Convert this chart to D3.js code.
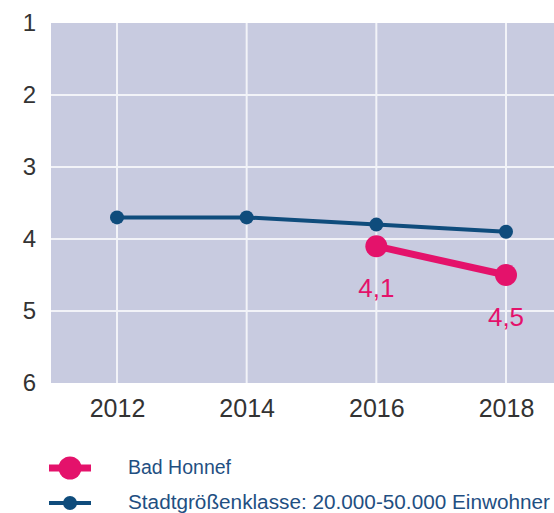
<!DOCTYPE html>
<html>
<head>
<meta charset="utf-8">
<script src="https://cdn.jsdelivr.net/npm/d3@7"></script>
<style>
  html, body { margin: 0; padding: 0; background: #fff; }
  svg { display: block; font-family: "Liberation Sans", Arial, sans-serif; }
</style>
</head>
<body>
<svg id="chart" width="554" height="513"></svg>
<script>
const years = [2012, 2014, 2016, 2018];
const yTicks = [1, 2, 3, 4, 5, 6];
const cityYears = [2016, 2018];
const cityValues = [4.1, 4.5];
const cityLabels = ["4,1", "4,5"];
const classYears = [2012, 2014, 2016, 2018];
const classValues = [3.7, 3.7, 3.8, 3.9];
const seriesNames = ["Bad Honnef", "Stadtgrößenklasse: 20.000-50.000 Einwohner"];

const pink = "#e4126b";
const blue = "#0f4c7c";
const bg = "#c8cbe0";

const svg = d3.select("#chart");
const plotLeft = 51, plotRight = 554, plotTop = 23, plotBottom = 383;

const x = d3.scaleLinear().domain([2012, 2018]).range([117, 506]);
const y = d3.scaleLinear().domain([1, 6]).range([plotTop, plotBottom]);

svg.append("rect")
  .attr("x", plotLeft).attr("y", plotTop)
  .attr("width", plotRight - plotLeft).attr("height", plotBottom - plotTop)
  .attr("fill", bg);

// grid
const g = svg.append("g");
g.selectAll("line.v").data(years).join("line")
  .attr("x1", d => x(d)).attr("x2", d => x(d))
  .attr("y1", plotTop).attr("y2", plotBottom)
  .attr("stroke", "#f2f3f8").attr("stroke-width", 2);
g.selectAll("line.h").data(yTicks.slice(1, -1)).join("line")
  .attr("x1", plotLeft).attr("x2", plotRight)
  .attr("y1", d => y(d)).attr("y2", d => y(d))
  .attr("stroke", "#f2f3f8").attr("stroke-width", 2);

// axes
const yAxis = d3.axisLeft(y).tickValues(yTicks).tickSize(0).tickPadding(0).tickFormat(d3.format("d"));
const ya = svg.append("g").attr("transform", "translate(36,0)").call(yAxis);
ya.select(".domain").remove();
ya.selectAll("text").attr("font-size", 24).attr("fill", "#333").attr("font-family", "Liberation Sans, Arial, sans-serif");

const xAxis = d3.axisBottom(x).tickValues(years).tickSize(0).tickPadding(0).tickFormat(d3.format("d"));
const xa = svg.append("g").attr("transform", "translate(0,399)").call(xAxis);
xa.select(".domain").remove();
xa.selectAll("text").attr("font-size", 25).attr("fill", "#333").attr("font-family", "Liberation Sans, Arial, sans-serif");

// class series
const classData = classYears.map((d, i) => ({ year: d, value: classValues[i] }));
const line = d3.line().x(d => x(d.year)).y(d => y(d.value));
svg.append("path").datum(classData).attr("d", line)
  .attr("fill", "none").attr("stroke", blue).attr("stroke-width", 4);
svg.selectAll("circle.cls").data(classData).join("circle")
  .attr("cx", d => x(d.year)).attr("cy", d => y(d.value)).attr("r", 7).attr("fill", blue);

// city series
const cityData = cityYears.map((d, i) => ({ year: d, value: cityValues[i], label: cityLabels[i] }));
svg.append("path").datum(cityData).attr("d", line)
  .attr("fill", "none").attr("stroke", pink).attr("stroke-width", 7);
svg.selectAll("circle.city").data(cityData).join("circle")
  .attr("cx", d => x(d.year)).attr("cy", d => y(d.value)).attr("r", 11).attr("fill", pink);
svg.selectAll("text.lbl").data(cityData).join("text")
  .attr("x", d => x(d.year)).attr("y", d => y(d.value) + 51)
  .attr("text-anchor", "middle").attr("font-size", 26).attr("fill", pink)
  .text(d => d.label);

// legend
const legend = svg.append("g");
const legItems = [
  { name: seriesNames[0], color: pink, lw: 7, r: 11.5, cy: 468, len: null },
  { name: seriesNames[1], color: blue, lw: 4, r: 7, cy: 503, len: 422 }
];
legItems.forEach(it => {
  legend.append("line").attr("x1", 49).attr("x2", 91).attr("y1", it.cy).attr("y2", it.cy)
    .attr("stroke", it.color).attr("stroke-width", it.lw);
  legend.append("circle").attr("cx", 70).attr("cy", it.cy).attr("r", it.r).attr("fill", it.color);
  const t = legend.append("text").attr("x", 128).attr("y", it.cy + 6)
    .attr("font-size", 19.5).attr("fill", "#1f4f82").text(it.name);
  if (it.len) t.attr("textLength", it.len).attr("lengthAdjust", "spacingAndGlyphs");
});
</script>
</body>
</html>
